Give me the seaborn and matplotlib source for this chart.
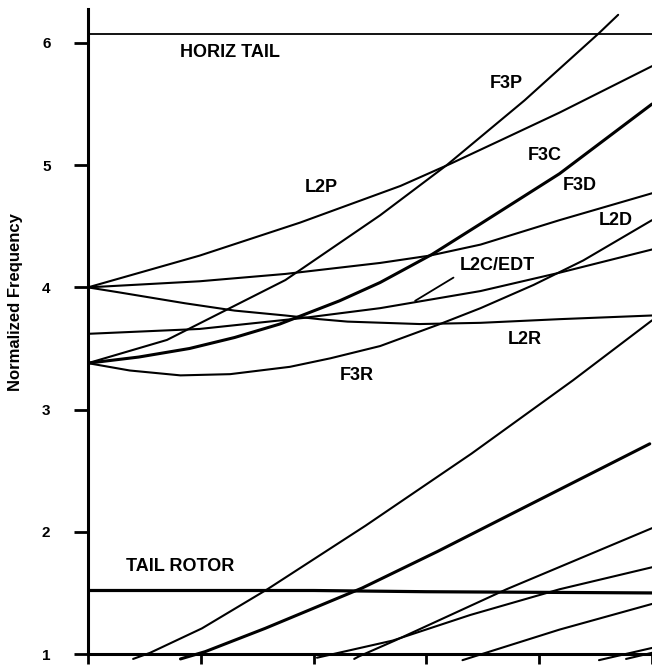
import matplotlib
matplotlib.use("Agg")
import matplotlib.pyplot as plt
import seaborn as sns
import pandas as pd

sns.set_style("ticks")
plt.rcParams['font.family'] = ['Liberation Sans', 'DejaVu Sans']

# ---- data (x in axis units 0..5, y = normalized frequency) ----
horiz_x = [0.0, 5.0]
horiz_y = [6.07, 6.07]

tail_x = [0.0, 2.0, 3.0, 5.0]
tail_y = [1.52, 1.52, 1.51, 1.50]

l2p_x = [0.0, 0.99, 1.88, 2.77, 3.21, 3.65, 4.18, 5.0]
l2p_y = [4.00, 4.26, 4.53, 4.83, 5.01, 5.20, 5.43, 5.81]

f3p_x = [0.0, 0.70, 1.75, 2.59, 3.18, 3.87, 4.53, 4.70]
f3p_y = [3.38, 3.57, 4.06, 4.59, 5.00, 5.53, 6.08, 6.23]

f3d_x = [0.0, 0.45, 0.90, 1.30, 1.70, 2.23, 2.59, 3.05, 3.48, 4.18, 5.0]
f3d_y = [3.38, 3.43, 3.50, 3.59, 3.70, 3.89, 4.04, 4.27, 4.52, 4.93, 5.50]

f3r_x = [0.0, 0.37, 0.82, 1.26, 1.79, 2.15, 2.59, 3.12, 3.48, 3.95, 4.39, 5.0]
f3r_y = [3.38, 3.32, 3.28, 3.29, 3.35, 3.42, 3.52, 3.70, 3.83, 4.02, 4.22, 4.55]

l2d_x = [0.0, 0.99, 1.75, 2.59, 3.03, 3.48, 4.18, 5.0]
l2d_y = [4.00, 4.05, 4.11, 4.20, 4.26, 4.35, 4.55, 4.77]

l2r_x = [0.0, 0.27, 0.86, 1.30, 1.75, 2.05, 2.30, 2.94, 3.48, 4.18, 5.0]
l2r_y = [4.00, 3.96, 3.87, 3.81, 3.77, 3.74, 3.72, 3.70, 3.71, 3.74, 3.77]

l2c_x = [0.0, 0.99, 1.91, 2.59, 3.48, 4.18, 5.0]
l2c_y = [3.62, 3.66, 3.75, 3.83, 3.97, 4.12, 4.31]

pointer_x = [2.90, 3.24]
pointer_y = [3.89, 4.08]

low1_x = [0.40, 0.55, 1.01, 1.59, 2.46, 3.40, 4.30, 5.0]
low1_y = [0.96, 1.01, 1.21, 1.53, 2.05, 2.64, 3.24, 3.73]

low2_x = [0.82, 1.04, 1.57, 2.43, 3.10, 3.74, 4.98]
low2_y = [0.96, 1.02, 1.21, 1.54, 1.84, 2.14, 2.72]

lowb_x = [2.36, 2.40, 2.72, 3.71, 5.0]
lowb_y = [0.96, 0.98, 1.11, 1.53, 2.03]

lowa_x = [2.03, 2.70, 3.39, 4.18, 5.0]
lowa_y = [0.97, 1.11, 1.32, 1.53, 1.71]

lowc_x = [3.32, 4.18, 5.0]
lowc_y = [0.95, 1.20, 1.41]

lowd_x = [4.53, 5.0]
lowd_y = [0.95, 1.05]

lowe_x = [4.77, 5.0]
lowe_y = [0.96, 1.01]

labels = ["HORIZ TAIL", "F3P", "L2P", "F3C", "F3D", "L2D", "L2C/EDT", "L2R", "F3R", "TAIL ROTOR"]
label_x = [1.26, 3.71, 2.07, 4.05, 4.36, 4.68, 3.63, 3.87, 2.38, 0.82]
label_y = [5.92, 5.67, 4.82, 5.08, 4.83, 4.55, 4.18, 3.57, 3.28, 1.72]

yticks = [1, 2, 3, 4, 5, 6]
xticks = [0, 1, 2, 3, 4, 5]

# ---- figure ----
fig = plt.figure(figsize=(6.52, 6.65), dpi=100)
ax = fig.add_axes([88/652, 0.0036, 1 - 88/652, 0.9833])
ax.set_xlim(0, 5)
ax.set_ylim(0.93, 6.28)

curves = [
    (horiz_x, horiz_y, 1.3),
    (tail_x, tail_y, 2.3),
    (l2p_x, l2p_y, 1.5),
    (f3p_x, f3p_y, 1.5),
    (f3d_x, f3d_y, 2.2),
    (f3r_x, f3r_y, 1.5),
    (l2d_x, l2d_y, 1.5),
    (l2r_x, l2r_y, 1.5),
    (l2c_x, l2c_y, 1.5),
    (pointer_x, pointer_y, 1.3),
    (low1_x, low1_y, 1.5),
    (low2_x, low2_y, 2.2),
    (lowb_x, lowb_y, 1.5),
    (lowa_x, lowa_y, 1.5),
    (lowc_x, lowc_y, 1.5),
    (lowd_x, lowd_y, 1.5),
    (lowe_x, lowe_y, 1.5),
]
for cx, cy, lw in curves:
    df = pd.DataFrame({"x": cx, "y": cy})
    sns.lineplot(data=df, x="x", y="y", ax=ax, color="black", linewidth=lw,
                 estimator=None, sort=False, legend=False)

for t, tx, ty in zip(labels, label_x, label_y):
    ax.text(tx, ty, t, ha="center", va="center", fontsize=13, fontweight="bold", color="black")

ax.spines["top"].set_visible(False)
ax.spines["right"].set_visible(False)
ax.spines["bottom"].set_position(("data", 1))
ax.spines["left"].set_bounds(1, 6.28)
ax.spines["bottom"].set_bounds(0, 5)
for s in ("left", "bottom"):
    ax.spines[s].set_linewidth(2.2)
    ax.spines[s].set_color("black")

ax.set_yticks(yticks)
ax.set_yticklabels([str(v) for v in yticks], fontsize=11, fontweight="bold")
ax.set_xticks(xticks)
ax.set_xticklabels([])
ax.tick_params(axis="y", direction="out", length=10, width=2, pad=17, colors="black")
ax.tick_params(axis="x", direction="out", length=7, width=2, colors="black")
ax.set_xlabel("")
ax.set_ylabel("Normalized Frequency", fontsize=12, fontweight="bold", color="black")
label_center = 1 + (654 - 302) / 122.4
ax.yaxis.set_label_coords(-0.115, (label_center - 0.93) / (6.28 - 0.93))

fig.savefig("out.png", dpi=100)
